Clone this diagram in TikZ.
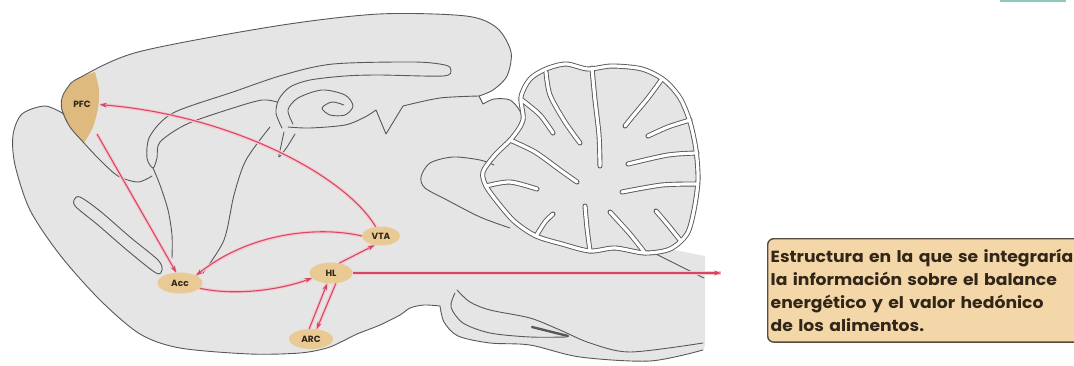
\documentclass[tikz,border=0pt]{standalone}
\usepackage{fontspec}
\newfontfamily\geofont{Poppins}
\newfontfamily\notefont[FakeStretch=1.07]{Poppins}
\usetikzlibrary{arrows.meta,shapes.geometric}

\definecolor{brainfill}{RGB}{230,229,229}
\definecolor{outline}{RGB}{88,88,88}
\definecolor{pathred}{RGB}{214,72,98}
\definecolor{halo}{RGB}{244,200,208}
\definecolor{nucleus}{RGB}{233,201,148}
\definecolor{pfctan}{RGB}{222,186,126}
\definecolor{boxfill}{RGB}{244,215,168}
\definecolor{boxline}{RGB}{85,75,65}
\definecolor{labeltext}{RGB}{50,38,25}
\definecolor{tealbar}{RGB}{140,200,190}

% keep caption words whole
\hyphenpenalty=10000
\exhyphenpenalty=10000

% cerebellum: outer border and fissures, drawn twice (dark rim, then light core)
\newcommand\cbfolia{%
  \draw[fissure] plot[smooth cycle] coordinates {(523,120) (521,97) (530,79) (546,69) (566,64) (588,69) (612,66) (642,69) (664,80) (680,98) (690,122) (696,150) (698,180) (694,210) (687,234) (670,249) (645,253) (615,248) (590,251) (562,244) (536,236) (515,222) (499,204) (486,186) (483,172) (495,155) (512,138)};
  \draw[fissure] plot[smooth] coordinates {(546,72) (550,95) (565,122) (580,143)};
  \draw[fissure] plot[smooth] coordinates {(592,68) (595,100) (599,135) (600,166)};
  \draw[fissure] plot[smooth] coordinates {(662,79) (648,98) (633,116) (625,126)};
  \draw[fissure] plot[smooth] coordinates {(690,120) (668,127) (648,136)};
  \draw[fissure] plot[smooth] coordinates {(697,153) (668,155) (628,164)};
  \draw[fissure] plot[smooth] coordinates {(697,184) (662,185) (622,192)};
  \draw[fissure] plot[smooth] coordinates {(680,240) (668,225) (656,211)};
  \draw[fissure] plot[smooth] coordinates {(645,253) (630,234) (610,212)};
  \draw[fissure] plot[smooth] coordinates {(590,251) (587,228) (585,206)};
  \draw[fissure] plot[smooth] coordinates {(536,236) (545,222) (553,214)};
  \draw[fissure] plot[smooth] coordinates {(486,186) (510,182) (537,189)};
  \draw[fissure] plot[smooth] coordinates {(510,140) (535,152) (560,170) (577,182)};
  \draw[fissure] plot[smooth] coordinates {(522,100) (540,115) (553,133)};
}

\begin{document}
\begin{tikzpicture}[x=1pt,y=-1pt,
  contour/.style={draw=outline,line width=0.9pt,line join=round,line cap=round},
  rim/.style={draw=outline,line width=5pt,line cap=round,line join=round},
  core/.style={draw=white,line width=3.2pt,line cap=round,line join=round},
  labelfont/.style={font=\geofont\bfseries\fontsize{9}{10}\selectfont,text=labeltext},
  nucleus/.style={ellipse,fill=nucleus,inner sep=0pt,labelfont},
  projection/.style={draw=pathred,line width=1.1pt,
    -{Stealth[length=7pt,width=5pt]},
    preaction={draw=halo,line width=3.4pt,-}},
  notebox/.style={anchor=north west,draw=boxline,line width=1.4pt,fill=boxfill,
    rounded corners=6pt,align=left,text width=316pt,inner xsep=3pt,inner ysep=10pt,
    text=labeltext,font=\notefont\bfseries\fontsize{16.1}{23.3}\selectfont}]

\useasboundingbox (0,0) rectangle (1074,365);

% silhouette of the brain
\fill[brainfill] plot[smooth] coordinates {(63,113) (61,100) (68,87) (79,78) (138,52) (276,26) (379,14) (466,16) (497,28) (511,52) (507,76) (493,90) (479,96)}
  -- plot[smooth] coordinates {(483,104) (494,99) (510,100) (520,111) (523,122)}
  -- plot[smooth] coordinates {(522,97) (530,79) (546,69) (566,64) (588,69) (612,66) (642,69) (664,80) (680,98) (690,122) (696,150) (698,180) (694,210) (687,234) (670,249)}
  -- (705,256) -- (705,346)
  -- plot[smooth] coordinates {(703,350) (650,361) (580,357) (530,345) (490,343) (458,336) (444,322) (440,306)}
  -- plot[smooth] coordinates {(424,305) (410,308) (400,315) (380,325) (357,334) (343,341) (327,348) (300,353) (250,354) (180,348) (140,334) (100,300) (60,255) (30,210) (15,165) (13,135) (22,114) (45,106) (63,113)}
  -- cycle;

% prefrontal cortex
\fill[pfctan] plot[smooth] coordinates {(95,72) (79,78) (68,87) (62,100) (62,112) (70,127) (84,143)}
  -- plot[smooth] coordinates {(84,143) (93,127) (98,108) (99,90) (95,72)} -- cycle;

% cortex and frontal boundary
\draw[contour] plot[smooth] coordinates {(152,176) (138,182) (118,176) (100,160) (84,143) (70,127) (62,110) (62,98) (68,87) (79,78) (138,52) (276,26) (379,14) (466,16) (497,28) (511,52) (507,76) (493,90) (479,96)}
  -- plot[smooth] coordinates {(483,104) (494,99) (510,100) (520,111) (523,122)};
% olfactory lobe and ventral outline
\draw[contour] plot[smooth] coordinates {(64,114) (45,106) (22,114) (13,135) (15,165) (30,210) (60,255) (100,300) (140,334) (180,348) (250,354) (300,353) (327,348) (343,341) (357,334) (380,325) (400,315) (410,308) (424,305) (440,306)};
\draw[contour] plot[smooth cycle] coordinates {(74,200) (80,197) (100,211) (130,237) (158,260) (162,270) (156,273) (128,251) (98,225) (76,207)};
% lower edge of cortex, notch and hippocampal floor
\draw[contour] plot[smooth] coordinates {(479,96) (440,98) (403,106)} -- (386,134) -- (376,110)
  -- plot[smooth] coordinates {(376,110) (365,117) (345,125) (310,128) (288,127)};
% corpus callosum and hippocampus
\draw[contour] plot[smooth] coordinates {(277,102) (262,100) (233,108) (187,124) (160,142) (157,158) (153,168) (147,158) (150,136) (173,113) (233,92) (283,75) (333,64) (414,62) (445,65) (451,70) (443,76) (379,75) (345,76) (310,80) (290,87) (279,99) (276,113) (282,128)};
\draw[contour] plot[smooth] coordinates {(293,124) (288,110) (298,98) (322,90) (345,95) (353,106) (345,115) (330,115) (322,108) (332,102) (344,105)};
\draw[contour] plot[smooth] coordinates {(284,132) (281,146) (279,157) (287,147) (295,134)};
\draw[contour] plot[smooth] coordinates {(153,168) (160,185) (168,210) (172,235) (172,258)};
\draw[contour] plot[smooth] coordinates {(270,127) (246,160) (234,195) (224,240) (203,273)};
% midbrain and brainstem
\draw[contour] plot[smooth] coordinates {(494,165) (480,160) (453,157) (430,163) (421,177) (425,188) (447,200) (480,217) (510,228)};
\draw[contour] (652,252) -- (704,278);
\draw[contour] plot[smooth] coordinates {(457,290) (470,302) (490,310) (530,318) (560,330) (590,343) (630,352) (703,343)};
\draw[contour] plot[smooth] coordinates {(455,293) (451,307) (463,323) (490,333) (530,337) (567,337)};
\draw[contour] plot[smooth] coordinates {(440,306) (444,322) (458,336) (490,343) (530,345) (580,357) (650,361) (703,350)};
\draw[outline,line width=2.4pt,line cap=round] (532,327) -- (568,336);

% cerebellum
\tikzset{fissure/.style=rim}\cbfolia
\tikzset{fissure/.style=core}\cbfolia

% nuclei
\node[labelfont,inner sep=1pt] (pfc) at (82,104) {PFC};
\node[nucleus,minimum width=45pt,minimum height=21pt] (acc) at (180,283) {Acc};
\node[nucleus,minimum width=43pt,minimum height=21pt] (hl) at (331,273) {HL};
\node[nucleus,minimum width=38pt,minimum height=19pt] (vta) at (381,236) {VTA};
\node[nucleus,minimum width=44pt,minimum height=20pt] (arc) at (311,339) {ARC};
\coordinate (pfcbase) at (97,134);
\coordinate (outtip) at (721,273);

% projections
\draw[projection] (pfcbase) -- (acc.110);
\draw[projection,shorten >=8pt] (vta.120) .. controls (345,175) and (230,115) .. (pfc.east);
\draw[projection] (vta.west) .. controls (320,226) and (250,232) .. (acc.25);
\draw[projection] (acc.-15) .. controls (235,296) and (280,290) .. (hl.195);
\draw[projection] (hl.50) -- (vta.235);
\draw[projection] (arc.100) -- (hl.250);
\draw[projection] (hl.295) -- (arc.60);
\draw[projection] (hl.east) -- (outtip);

% caption
\node[notebox] (note) at (767,238) {Estructura en la que se integraría\\la información sobre el balance\\energético y el valor hedónico\\de los alimentos.};

\fill[tealbar] (1000,0) rectangle (1066,2);
\end{tikzpicture}
\end{document}
